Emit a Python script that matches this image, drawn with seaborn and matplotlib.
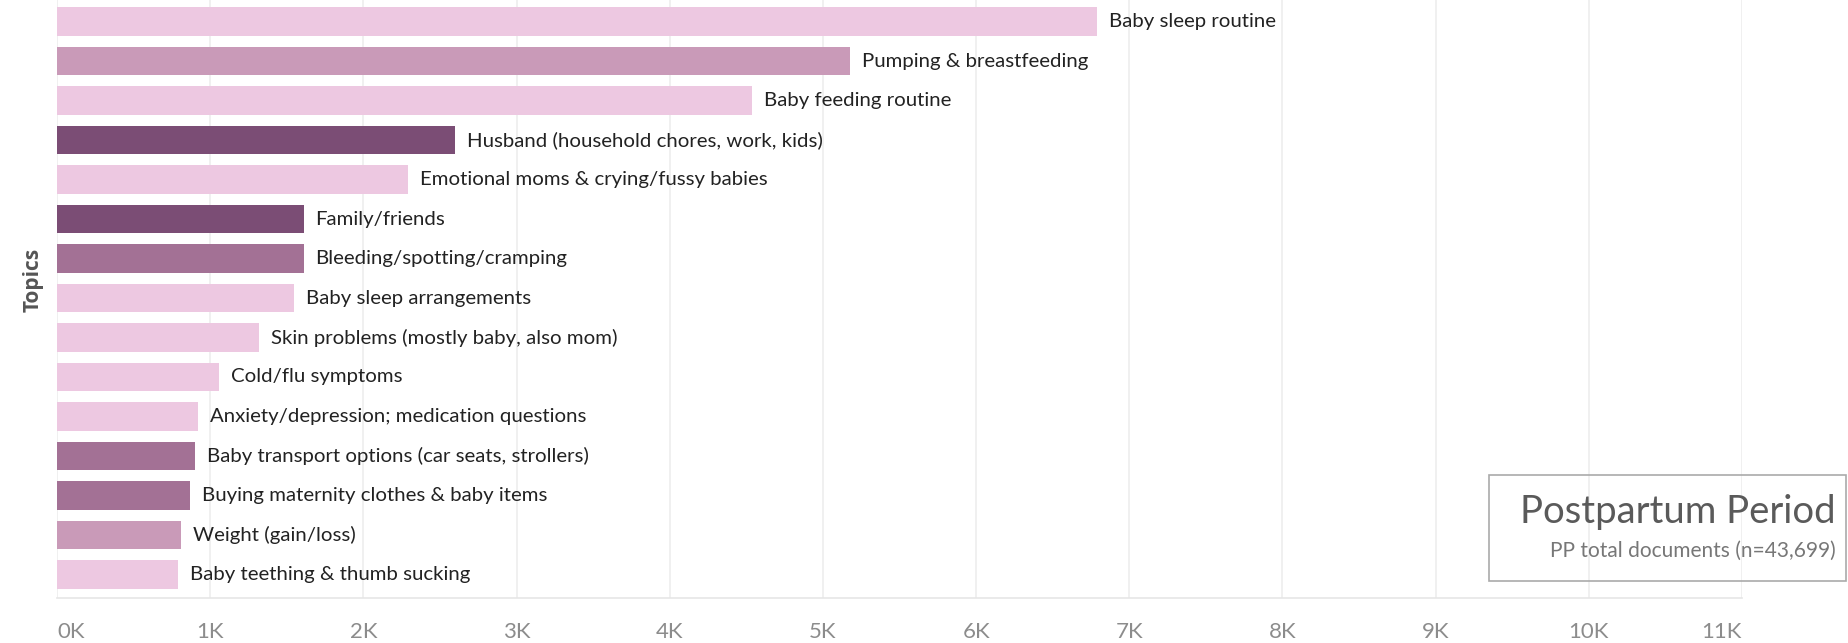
import matplotlib
matplotlib.use("Agg")
import matplotlib.pyplot as plt
import seaborn as sns
import pandas as pd

topics = [
    "Baby sleep routine",
    "Pumping & breastfeeding",
    "Baby feeding routine",
    "Husband (household chores, work, kids)",
    "Emotional moms & crying/fussy babies",
    "Family/friends",
    "Bleeding/spotting/cramping",
    "Baby sleep arrangements",
    "Skin problems (mostly baby, also mom)",
    "Cold/flu symptoms",
    "Anxiety/depression; medication questions",
    "Baby transport options (car seats, strollers)",
    "Buying maternity clothes & baby items",
    "Weight (gain/loss)",
    "Baby teething & thumb sucking",
]
documents = [6790, 5180, 4540, 2600, 2290, 1610, 1610, 1550, 1320, 1060, 920, 900, 870, 810, 790]
tone = ["A", "B", "A", "D", "A", "D", "C", "A", "A", "A", "A", "C", "C", "B", "A"]
tick_values = list(range(0, 12000, 1000))
tick_labels = [f"{v // 1000}K" for v in tick_values]

tone_colors = {"A": "#EDC8E1", "B": "#C99AB8", "C": "#A37195", "D": "#7B4D75"}

df = pd.DataFrame({"topic": topics, "documents": documents, "tone": tone})

sns.set_theme(style="white")
plt.rcParams["font.family"] = ["Lato", "DejaVu Sans"]

W, H = 1848, 643
fig = plt.figure(figsize=(W / 100, H / 100), dpi=100)
x0, x1 = 57, 1742
y_axis = 598
ax = fig.add_axes([x0 / W, 1 - y_axis / H, (x1 - x0) / W, y_axis / H])

sns.barplot(data=df, y="topic", x="documents", hue="tone", palette=tone_colors,
            order=topics, orient="h", width=0.72, legend=False, ax=ax,
            linewidth=0, dodge=False, saturation=1)

ax.set_xlim(0, 11000)
ax.set_ylim(14.6, -0.55)
ax.set_xticks(tick_values)
ax.set_xticklabels(tick_labels)
ax.grid(axis="x", color="#EDEDED", linewidth=1.2)
ax.set_axisbelow(True)
ax.set_yticks([])
ax.set_ylabel("")
ax.set_xlabel("")
for side in ("left", "right", "top"):
    ax.spines[side].set_visible(False)
ax.spines["bottom"].set_color("#E6E6E6")
ax.spines["bottom"].set_linewidth(1.2)
ax.tick_params(axis="x", colors="#EDEDED", length=14, width=1.2,
               labelcolor="#8C8C8C", labelsize=16, pad=3)
tl = ax.get_xticklabels()
tl[0].set_horizontalalignment("left")
tl[-1].set_horizontalalignment("right")

for i, (t, v) in enumerate(zip(topics, documents)):
    ax.annotate(t, (v, i), xytext=(8.5, 0), textcoords="offset points",
                ha="left", va="center", fontsize=14.7, color="#222222")

fig.text(33 / W, 1 - 280 / H, "Topics", rotation=90, ha="center", va="center",
         fontsize=15, fontweight="bold", color="#555555",
         family=["Open Sans", "DejaVu Sans"])

# summary box in the lower right
bx0, by0, bx1, by1 = 1489, 475, 1846, 581
box = plt.Rectangle((bx0 / W, 1 - by1 / H), (bx1 - bx0) / W, (by1 - by0) / H,
                    transform=fig.transFigure, fill=False, edgecolor="#AAAAAA",
                    linewidth=1.2)
fig.add_artist(box)
fig.text(1836 / W, 1 - 512 / H, "Postpartum Period", ha="right", va="center",
         fontsize=27.5, color="#5A5A5A")
fig.text(1836 / W, 1 - 551 / H, "PP total documents (n=43,699)", ha="right",
         va="center", fontsize=15, color="#777777")

fig.savefig("out.png", dpi=100)
